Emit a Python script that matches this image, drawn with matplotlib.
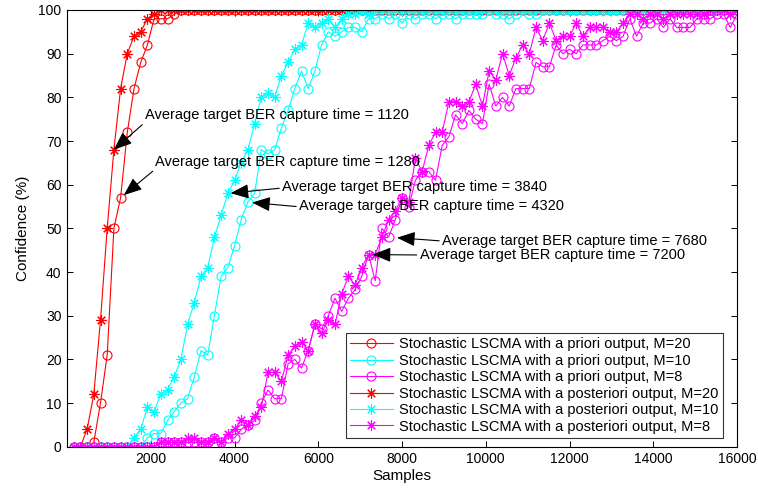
import numpy as np
import matplotlib
matplotlib.use("Agg")
import matplotlib.pyplot as plt

plt.rcParams['font.family'] = ['Liberation Sans', 'DejaVu Sans']

# Sample index grid: one point every 160 samples
samples = np.arange(160, 16001, 160)

# Confidence (%) per sample point
prior_m20 = [
    0, 0, 0, 1, 10, 21, 50, 57, 72, 82, 88, 92, 98, 98, 98, 99, 100, 100, 100, 100,
    100, 100, 100, 100, 100, 100, 100, 100, 100, 100, 100, 100, 100, 100, 100, 100, 100, 100, 100, 100,
    100, 100, 100, 100, 100, 100, 100, 100, 100, 100, 100, 100, 100, 100, 100, 100, 100, 100, 100, 100,
    100, 100, 100, 100, 100, 100, 100, 100, 100, 100, 100, 100, 100, 100, 100, 100, 100, 100, 100, 100,
    100, 100, 100, 100, 100, 100, 100, 100, 100, 100, 100, 100, 100, 100, 100, 100, 100, 100, 100, 100,
]
prior_m10 = [
    0, 0, 0, 0, 0, 0, 0, 0, 0, 0, 0, 2, 3, 3, 6, 8, 10, 11, 16, 22,
    21, 30, 39, 41, 46, 52, 56, 58, 68, 67, 68, 73, 77, 82, 86, 82, 86, 92, 95, 94,
    95, 96, 96, 95, 98, 98, 99, 98, 99, 97, 99, 98, 99, 99, 98, 99, 99, 98, 99, 99,
    99, 99, 100, 99, 99, 98, 99, 100, 99, 99, 100, 100, 100, 100, 100, 100, 100, 100, 100, 100,
    100, 100, 100, 100, 100, 100, 100, 100, 100, 100, 100, 100, 100, 100, 100, 100, 100, 100, 100, 100,
]
prior_m8 = [
    0, 0, 0, 0, 0, 0, 0, 0, 0, 0, 0, 0, 0, 1, 1, 1, 1, 1, 1, 1,
    1, 2, 1, 2, 2, 4, 5, 6, 10, 13, 11, 11, 19, 20, 18, 22, 28, 27, 30, 34,
    31, 34, 36, 39, 44, 38, 50, 48, 52, 57, 55, 61, 63, 63, 61, 69, 71, 76, 74, 77,
    75, 74, 83, 78, 80, 78, 82, 82, 82, 88, 87, 87, 92, 90, 91, 90, 92, 92, 92, 93,
    94, 93, 94, 98, 94, 97, 97, 98, 96, 98, 96, 96, 96, 98, 98, 98, 99, 99, 96, 99,
]
post_m20 = [
    0, 0, 4, 12, 29, 50, 68, 82, 90, 94, 95, 98, 99, 100, 100, 100, 100, 100, 100, 100,
    100, 100, 100, 100, 100, 100, 100, 100, 100, 100, 100, 100, 100, 100, 100, 100, 100, 100, 100, 100,
    100, 100, 100, 100, 100, 100, 100, 100, 100, 100, 100, 100, 100, 100, 100, 100, 100, 100, 100, 100,
    100, 100, 100, 100, 100, 100, 100, 100, 100, 100, 100, 100, 100, 100, 100, 100, 100, 100, 100, 100,
    100, 100, 100, 100, 100, 100, 100, 100, 100, 100, 100, 100, 100, 100, 100, 100, 100, 100, 100, 100,
]
post_m10 = [
    0, 0, 0, 0, 0, 0, 0, 0, 0, 2, 4, 9, 8, 12, 13, 16, 20, 28, 33, 39,
    41, 48, 53, 58, 61, 65, 68, 74, 80, 81, 80, 85, 88, 91, 92, 97, 96, 97, 98, 96,
    98, 99, 99, 100, 99, 100, 100, 100, 100, 100, 100, 100, 100, 100, 100, 100, 100, 100, 100, 100,
    100, 100, 100, 100, 100, 100, 100, 100, 100, 100, 100, 100, 100, 100, 100, 100, 100, 100, 100, 100,
    100, 100, 100, 100, 100, 100, 100, 100, 100, 100, 100, 100, 100, 100, 100, 100, 100, 100, 100, 100,
]
post_m8 = [
    0, 0, 0, 0, 0, 0, 0, 0, 0, 0, 0, 0, 0, 1, 1, 1, 1, 2, 2, 1,
    1, 2, 1, 3, 4, 6, 5, 7, 9, 17, 17, 15, 21, 23, 24, 22, 28, 26, 29, 28,
    35, 39, 37, 41, 44, 44, 48, 52, 54, 57, 56, 66, 63, 69, 72, 72, 79, 79, 78, 79,
    83, 78, 86, 84, 90, 85, 89, 92, 90, 96, 93, 97, 93, 94, 94, 97, 94, 96, 96, 96,
    95, 95, 97, 99, 99, 98, 99, 99, 98, 99, 99, 99, 99, 99, 99, 100, 100, 100, 99, 100,
]

labels = [
    "Stochastic LSCMA with a priori output, M=20",
    "Stochastic LSCMA with a priori output, M=10",
    "Stochastic LSCMA with a priori output, M=8",
    "Stochastic LSCMA with a posteriori output, M=20",
    "Stochastic LSCMA with a posteriori output, M=10",
    "Stochastic LSCMA with a posteriori output, M=8",
]

# capture times and the confidence at which each arrow lands
capture_times = [1120, 1280, 3840, 4320, 7680, 7200]
capture_conf = [68, 57, 58, 56, 48, 44]
text_pos = [(1863, 75.9), (2113, 65.2), (5134, 59.4), (5540, 55.1), (8955, 47.1), (8418, 43.9)]
arrow_rel = [(0, 0), (0, 0), (0, 0.45), (0, 0.45), (0, 0.5), (0, 0.5)]
arrow_shrink = [0, 3, 2, 3, 6, 3]

fig = plt.figure(figsize=(7.58, 4.92), dpi=100)
ax = fig.add_axes([67 / 758, 1 - 446.7 / 492, 670 / 758, 436.7 / 492])

star = (8, 2, 0)
series = [
    (prior_m20, 'red', 'o'),
    (prior_m10, 'cyan', 'o'),
    (prior_m8, 'magenta', 'o'),
    (post_m20, 'red', star),
    (post_m10, 'cyan', star),
    (post_m8, 'magenta', star),
]
for (vals, col, mk), lab in zip(series, labels):
    ax.plot(samples, vals, color=col, lw=0.8, marker=mk, ms=6.5 if mk == 'o' else 7.5,
            mfc='none', mec=col, mew=0.8, label=lab)

for t, c, pos, rel, shr in zip(capture_times, capture_conf, text_pos, arrow_rel, arrow_shrink):
    ax.annotate(f"Average target BER capture time = {t}", xy=(t, c), xytext=pos,
                ha='left', va='center', fontsize=10.5,
                arrowprops=dict(arrowstyle='-|>,head_length=0.8,head_width=0.32',
                                color='black', lw=0.8, shrinkA=0, shrinkB=shr,
                                relpos=rel, mutation_scale=14))

ax.set_xlim(0, 16000)
ax.set_ylim(0, 100)
ax.set_xticks([2000, 4000, 6000, 8000, 10000, 12000, 14000, 16000])
ax.set_yticks(np.arange(0, 101, 10))
ax.tick_params(direction='in', top=True, right=True, length=4, width=0.7,
               labelsize=10, pad=4)
for sp in ax.spines.values():
    sp.set_linewidth(0.8)
ax.set_xlabel("Samples", fontsize=11, labelpad=2)
ax.set_ylabel("Confidence (%)", fontsize=11, labelpad=6)

leg = ax.legend(loc='lower right', bbox_to_anchor=(0.979, 0.02), borderaxespad=0,
                fontsize=10.5, frameon=True, fancybox=False, handlelength=2.9,
                labelspacing=0.17, borderpad=0.3, handletextpad=0.45)
leg.get_frame().set_edgecolor('black')
leg.get_frame().set_linewidth(0.8)

fig.savefig("out.png", dpi=100)
